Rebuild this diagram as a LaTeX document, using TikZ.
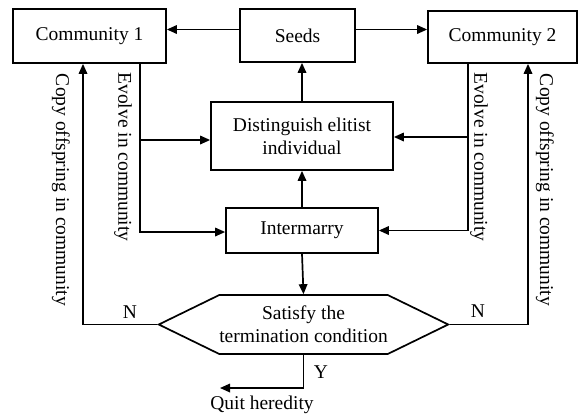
\documentclass[tikz,border=0pt]{standalone}
\usepackage{fontspec}
\setmainfont{Liberation Serif}
\usepackage{tikz}
\usetikzlibrary{arrows.meta}
\usetikzlibrary{shapes.symbols}

\begin{document}
\begin{tikzpicture}[x = 1pt, y = -1pt,
    every node/.style = {font = \fontsize{19.5}{23}\selectfont},
    box/.style = {draw, line width = 1.7pt, inner sep = 0pt, align = center},
    link/.style = {line width = 1.7pt},
    arr/.style = {link, -{Triangle[length = 10pt, width = 8.5pt]}},
    side/.style = {rotate = -90, inner sep = 0pt}]
    {
    \useasboundingbox (0,0) rectangle (580,416);
    \node[box, minimum width = 153pt, minimum height = 54pt](communityOne) at (89.5,36) {Community 1};
    \node[box, minimum width = 115pt, minimum height = 53pt](seeds) at (297.5,35.5) {Seeds};
    \node[box, minimum width = 149pt, minimum height = 52pt](communityTwo) at (502.5,37) {Community 2};
    \node[box, minimum width = 182pt, minimum height = 68pt](distinguish) at (302,136) {Distinguish elitist\\individual};
    \node[box, minimum width = 152pt, minimum height = 45pt](intermarry) at (302,230.5) {Intermarry};
    \node[box, signal, signal to = east and west, signal pointer angle = 52, minimum width = 241pt, minimum height = 59pt](termination) at (303.5,324.5) {Satisfy the\\termination condition};

    \coordinate (leftCopy) at (83,0);
    \coordinate (leftEvolve) at (140,0);
    \coordinate (rightEvolve) at (468,0);
    \coordinate (rightCopy) at (528,0);
    \coordinate (quitEnd) at (220,388);

    \draw [arr] ([yshift = 6pt]seeds.west) -- ([yshift = 6pt]seeds.west -| communityOne.east);
    \draw [arr] ([yshift = 6pt]seeds.east) -- ([yshift = 6pt]seeds.east -| communityTwo.west);
    \draw [arr] (distinguish.north) -- (distinguish.north |- seeds.south);
    \draw [arr] (intermarry.north) -- (distinguish.south);
    \draw [arr] (intermarry.south) -- (termination.north);

    \draw [arr] (communityOne.south -| leftEvolve) |- ([yshift = -1.5pt]intermarry.west);
    \draw [arr] ([yshift = -4pt]leftEvolve |- distinguish.west) -- ([yshift = -4pt]distinguish.west);
    \draw [arr] (communityTwo.south -| rightEvolve) |- (intermarry.east);
    \draw [arr] ([yshift = -1pt]rightEvolve |- distinguish.east) -- ([yshift = -1pt]distinguish.east);

    \draw [arr] (termination.west) -| (communityOne.south -| leftCopy);
    \draw [arr] (termination.east) -| (communityTwo.south -| rightCopy);
    \draw [arr] (termination.south) |- (quitEnd);

    \node(noLeft) at (130,312) {N};
    \node(noRight) at (478,311) {N};
    \node(yes) at (321,372) {Y};
    \node(quit) at (262,405) {Quit heredity};

    \node[side](copyLeftLabel) at (61,190) {Copy offspring in community};
    \node[side](evolveLeftLabel) at (123,157) {Evolve in community};
    \node[side](evolveRightLabel) at (479,157) {Evolve in community};
    \node[side](copyRightLabel) at (545,190) {Copy offspring in community};
    }
\end{tikzpicture}
\end{document}
